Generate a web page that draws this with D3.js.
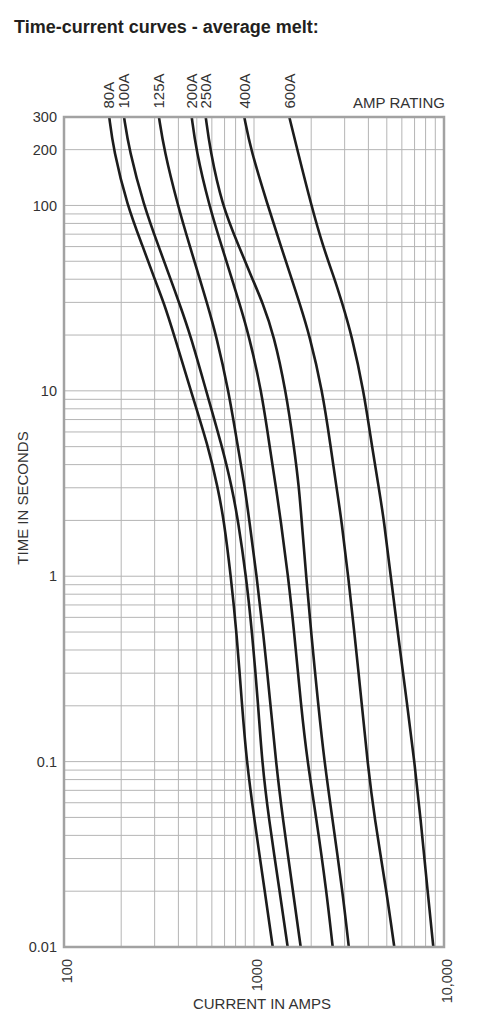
<!DOCTYPE html>
<html>
<head>
<meta charset="utf-8">
<script src="https://cdn.jsdelivr.net/npm/d3@7"></script>
<style>
  body { margin: 0; background: #fff; }
  svg { display: block; }
  text { font-family: "Liberation Sans", Arial, Helvetica, sans-serif; }
</style>
</head>
<body>
<svg id="chart"></svg>
<script>
// time (seconds) at which each curve was read
var times = [300, 200, 100, 60, 40, 30, 20, 10, 5, 3, 2, 1, 0.5, 0.2, 0.1, 0.05, 0.02, 0.01];

// current (amps) for each rating at those times
var amps80  = [173, 182, 215, 260, 300, 335, 380, 465, 575, 645, 695, 755, 810, 865, 915, 1000, 1140, 1255];
var amps100 = [207, 220, 263, 315, 364, 403, 463, 560, 680, 766, 824, 909, 977, 1053, 1102, 1193, 1365, 1504];
var amps125 = [316, 336, 397, 460, 519, 564, 632, 735, 822, 896, 944, 1033, 1118, 1223, 1304, 1414, 1604, 1761];
var amps200 = [470, 495, 580, 677, 766, 835, 939, 1095, 1209, 1306, 1382, 1512, 1628, 1768, 1910, 2126, 2407, 2595];
var amps250 = [557, 587, 679, 834, 982, 1109, 1272, 1471, 1624, 1726, 1781, 1881, 1998, 2180, 2347, 2580, 2923, 3155];
var amps400 = [889, 961, 1182, 1387, 1581, 1731, 1959, 2291, 2533, 2719, 2888, 3132, 3373, 3702, 3953, 4298, 4982, 5475];
var amps600 = [1534, 1690, 2003, 2308, 2659, 2902, 3265, 3780, 4179, 4538, 4833, 5243, 5707, 6411, 6987, 7520, 8196, 8786];

var ratings = ["80A", "100A", "125A", "200A", "250A", "400A", "600A"];
var series = [amps80, amps100, amps125, amps200, amps250, amps400, amps600];

var xTicks = [100, 1000, 10000];
var xTickLabels = ["100", "1000", "10,000"];
var yTicks = [300, 200, 100, 10, 1, 0.1, 0.01];
var yTickLabels = ["300", "200", "100", "10", "1", "0.1", "0.01"];

var width = 480, height = 1027;
var plot = {left: 64, right: 444, top: 117, bottom: 947};

var svg = d3.select("#chart")
    .attr("width", width)
    .attr("height", height);

var x = d3.scaleLog()
    .domain([100, 10000])
    .range([plot.left, plot.right]);
var y = d3.scaleLog()
    .domain([0.01, 300])
    .range([plot.bottom, plot.top]);

svg.append("text")
    .attr("x", 14)
    .attr("y", 33)
    .style("font-size", "18px")
    .style("font-weight", "bold")
    .style("fill", "#231f20")
    .text("Time-current curves - average melt:");

// grid
var grid = svg.append("g").attr("class", "grid");
grid.selectAll("line.v")
    .data(x.ticks())
  .enter().append("line")
    .attr("class", "v")
    .attr("x1", function(d) { return x(d); })
    .attr("x2", function(d) { return x(d); })
    .attr("y1", plot.top)
    .attr("y2", plot.bottom)
    .style("stroke", "#b5b5b5")
    .style("stroke-width", 1);
grid.selectAll("line.h")
    .data(y.ticks())
  .enter().append("line")
    .attr("class", "h")
    .attr("x1", plot.left)
    .attr("x2", plot.right)
    .attr("y1", function(d) { return y(d); })
    .attr("y2", function(d) { return y(d); })
    .style("stroke", "#b5b5b5")
    .style("stroke-width", 1);

// curves
var line = d3.line()
    .x(function(d) { return x(d[0]); })
    .y(function(d) { return y(d[1]); })
    .curve(d3.curveBasis);

svg.selectAll("path.curve")
    .data(series)
  .enter().append("path")
    .attr("class", "curve")
    .attr("d", function(s) {
      return line(s.map(function(a, i) { return [a, times[i]]; }));
    })
    .style("fill", "none")
    .style("stroke", "#1c1c1c")
    .style("stroke-width", 2.6);

// frame
svg.append("rect")
    .attr("x", plot.left)
    .attr("y", plot.top)
    .attr("width", plot.right - plot.left)
    .attr("height", plot.bottom - plot.top)
    .style("fill", "none")
    .style("stroke", "#a2a2a2")
    .style("stroke-width", 2.5);

// rating labels over the curves
svg.selectAll("text.rating")
    .data(ratings)
  .enter().append("text")
    .attr("class", "rating")
    .attr("transform", function(d, i) {
      return "translate(" + x(series[i][0]) + ",108.5) rotate(-90)";
    })
    .attr("dy", "0.35em")
    .style("font-size", "15px")
    .style("fill", "#333")
    .text(function(d) { return d; });

svg.append("text")
    .attr("x", 445)
    .attr("y", 108)
    .attr("text-anchor", "end")
    .style("font-size", "15px")
    .style("fill", "#333")
    .text("AMP RATING");

// y tick labels
svg.selectAll("text.ytick")
    .data(yTicks)
  .enter().append("text")
    .attr("class", "ytick")
    .attr("x", 57)
    .attr("y", function(d) { return y(d); })
    .attr("dy", "0.35em")
    .attr("text-anchor", "end")
    .style("font-size", "14.5px")
    .style("fill", "#333")
    .text(function(d, i) { return yTickLabels[i]; });

// x tick labels (rotated)
svg.selectAll("text.xtick")
    .data(xTicks)
  .enter().append("text")
    .attr("class", "xtick")
    .attr("transform", function(d) {
      return "translate(" + (x(d) + 2.5) + ",959) rotate(-90)";
    })
    .attr("dy", "0.35em")
    .attr("text-anchor", "end")
    .style("font-size", "14.5px")
    .style("fill", "#333")
    .text(function(d, i) { return xTickLabels[i]; });

svg.append("text")
    .attr("x", 262)
    .attr("y", 1009)
    .attr("text-anchor", "middle")
    .style("font-size", "15px")
    .style("fill", "#333")
    .text("CURRENT IN AMPS");

svg.append("text")
    .attr("transform", "translate(28,498) rotate(-90)")
    .attr("text-anchor", "middle")
    .style("font-size", "15px")
    .style("fill", "#333")
    .text("TIME IN SECONDS");
</script>
</body>
</html>
